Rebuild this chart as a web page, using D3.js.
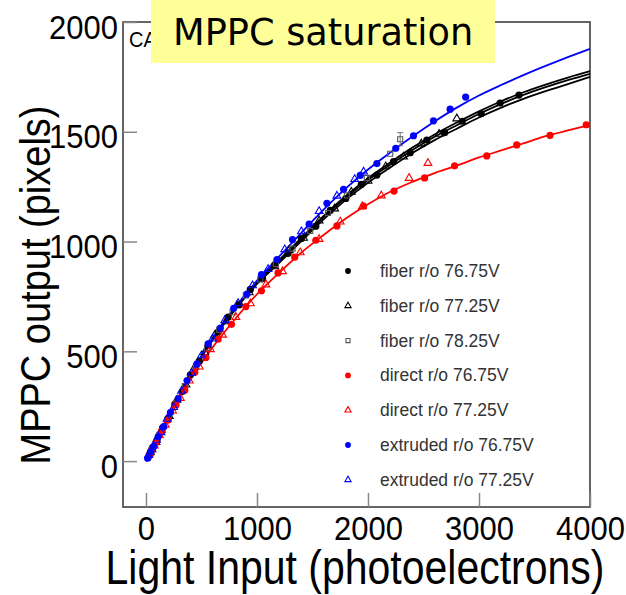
<!DOCTYPE html>
<html>
<head>
<meta charset="utf-8">
<script src="https://cdn.jsdelivr.net/npm/d3@7"></script>
<style>
  html, body { margin: 0; padding: 0; background: #fff; }
  svg { display: block; }
</style>
</head>
<body>
<div id="chart"></div>
<script>
// tick values
var xTicks = [0, 1000, 2000, 3000, 4000];
var yTicks = [0, 500, 1000, 1500, 2000];

// fit curves on a shared x grid
var fitX = [0, 200, 400, 600, 800, 1000, 1200, 1400, 1600, 1800, 2000, 2200, 2400, 2600, 2800, 3000, 3200, 3400, 3600, 3800, 4000];
var fitFiberA = [0, 198, 390, 555, 692, 812, 910, 1010, 1110, 1200, 1280, 1350, 1417, 1477, 1530, 1581, 1627, 1668, 1703, 1735, 1764];
var fitFiberB = [0, 199, 392, 558, 696, 817, 916, 1017, 1117, 1208, 1289, 1360, 1428, 1488, 1542, 1593, 1639, 1680, 1715, 1747, 1776];
var fitFiberC = [0, 197, 388, 552, 688, 807, 903, 1002, 1101, 1190, 1268, 1337, 1403, 1462, 1514, 1565, 1610, 1650, 1685, 1717, 1750];
var fitDirect = [0, 190, 372, 518, 645, 760, 858, 950, 1030, 1105, 1170, 1227, 1272, 1312, 1346, 1383, 1415, 1447, 1480, 1506, 1530];
var fitExtruded = [0, 198, 392, 560, 698, 822, 932, 1040, 1145, 1242, 1328, 1405, 1478, 1547, 1610, 1665, 1713, 1758, 1800, 1840, 1878];

// measured points
var fiber7675X = [30, 60, 100, 150, 200, 260, 330, 400, 480, 560, 650, 740, 840, 940, 1050, 1160, 1280, 1400, 1530, 1660, 1800, 1940, 2080, 2230, 2380, 2530, 2690, 2850, 3020, 3190, 3360];
var fiber7675Y = [28, 61, 97, 152, 195, 259, 318, 393, 455, 527, 588, 656, 713, 782, 831, 894, 946, 1014, 1070, 1142, 1196, 1260, 1303, 1364, 1405, 1462, 1496, 1548, 1582, 1631, 1667];

var fiber7725X = [40, 90, 140, 210, 280, 360, 440, 530, 620, 720, 820, 930, 1040, 1160, 1290, 1420, 1560, 1700, 1850, 2000, 2160, 2320, 2480, 2640, 2800];
var fiber7725Y = [42, 86, 142, 205, 279, 348, 428, 496, 574, 636, 709, 768, 835, 886, 960, 1016, 1095, 1150, 1226, 1276, 1342, 1386, 1446, 1490, 1560];

var fiber7825X = [50, 120, 190, 270, 350, 450, 550, 660, 780, 900, 1030, 1170, 1320, 1480, 1640, 1810, 1990, 2200, 2290];
var fiber7825Y = [50, 119, 188, 265, 342, 433, 515, 598, 678, 755, 828, 898, 968, 1048, 1130, 1210, 1290, 1400, 1466];
var fiber7825Err = [0, 0, 0, 0, 0, 0, 0, 0, 0, 0, 0, 0, 0, 0, 0, 0, 0, 0, 30];

var direct7675X = [20, 50, 90, 140, 200, 270, 350, 440, 540, 650, 770, 900, 1040, 1190, 1340, 1530, 1720, 1960, 2235, 2510, 2780, 3070, 3340, 3640, 3966];
var direct7675Y = [17, 50, 84, 137, 187, 256, 323, 405, 472, 555, 623, 704, 776, 857, 929, 1006, 1071, 1162, 1230, 1290, 1345, 1390, 1440, 1484, 1532];

var direct7725X = [35, 75, 120, 175, 240, 310, 390, 480, 580, 690, 810, 940, 1080, 1230, 1390, 1560, 1750, 1950, 2120, 2370, 2540];
var direct7725Y = [35, 70, 118, 165, 229, 287, 366, 430, 509, 575, 655, 718, 804, 864, 950, 1011, 1090, 1160, 1209, 1289, 1357];

var extr7675X = [15, 40, 70, 110, 160, 220, 290, 370, 460, 560, 670, 790, 910, 1040, 1180, 1320, 1470, 1630, 1780, 1930, 2080, 2250, 2410, 2590, 2740, 2880];
var extr7675Y = [13, 42, 67, 112, 157, 221, 284, 367, 443, 534, 606, 696, 761, 849, 918, 1009, 1079, 1174, 1238, 1301, 1355, 1425, 1482, 1550, 1603, 1658];

var extr7725X = [25, 55, 95, 135, 190, 250, 320, 410, 500, 600, 710, 830, 960, 1100, 1250, 1400, 1560, 1720, 1880, 1960];
var extr7725Y = [27, 53, 96, 131, 192, 245, 319, 401, 481, 557, 641, 719, 800, 874, 964, 1046, 1138, 1208, 1284, 1318];

var legendLabels = ["fiber r/o 76.75V", "fiber r/o 77.25V", "fiber r/o 78.25V", "direct r/o 76.75V", "direct r/o 77.25V", "extruded r/o 76.75V", "extruded r/o 77.25V"];

var W = 626, H = 595;
var frame = {left: 123, right: 590, top: 22, bottom: 507};

var svg = d3.select("#chart").append("svg")
  .attr("width", W)
  .attr("height", H);

var x = d3.scaleLinear().domain([-207, 4000]).range([frame.left, frame.right]);
var y = d3.scaleLinear().domain([-209, 2000]).range([frame.bottom, frame.top]);

var font = "'Liberation Sans', Arial, Helvetica, sans-serif";

// frame
svg.append("rect")
  .attr("x", frame.left).attr("y", frame.top)
  .attr("width", frame.right - frame.left).attr("height", frame.bottom - frame.top)
  .attr("fill", "none")
  .attr("stroke", "#555")
  .attr("stroke-width", 1.8);

// axes, ticks pointing inward
var xAxis = svg.append("g")
  .attr("transform", "translate(0," + frame.bottom + ")")
  .call(d3.axisBottom(x).tickValues(xTicks).tickSizeInner(-14).tickSizeOuter(0).tickFormat(d3.format("d")));
var yAxis = svg.append("g")
  .attr("transform", "translate(" + frame.left + ",0)")
  .call(d3.axisLeft(y).tickValues(yTicks).tickSizeInner(-14).tickSizeOuter(0).tickFormat(d3.format("d")));

[xAxis, yAxis].forEach(function(a) {
  a.select(".domain").remove();
  a.selectAll(".tick line").attr("stroke", "#888").attr("stroke-width", 1.5);
  a.selectAll(".tick text")
    .attr("fill", "#000")
    .style("font-family", font)
    .style("font-size", "31px");
});
xAxis.selectAll(".tick text")
  .attr("y", null).attr("dy", null)
  .attr("transform", "translate(0,33) scale(1,1.1)");
yAxis.selectAll(".tick text")
  .attr("x", null).attr("dy", null)
  .attr("transform", "translate(-5,16) scale(1,1.1)");

// fit lines
var line = d3.line()
  .x(function(d) { return x(d[0]); })
  .y(function(d) { return y(d[1]); })
  .curve(d3.curveMonotoneX);

var fits = [
  {vals: fitFiberC, color: "#000"},
  {vals: fitFiberB, color: "#000"},
  {vals: fitFiberA, color: "#000"},
  {vals: fitDirect, color: "#f00"},
  {vals: fitExtruded, color: "#00f"}
];
fits.forEach(function(f) {
  svg.append("path")
    .datum(fitX.map(function(v, i) { return [v, f.vals[i]]; }))
    .attr("d", line)
    .attr("fill", "none")
    .attr("stroke", f.color)
    .attr("stroke-width", 1.8);
});

var series = [
  {xs: fiber7675X, ys: fiber7675Y, color: "#000", shape: "dot"},
  {xs: fiber7725X, ys: fiber7725Y, color: "#000", shape: "tri"},
  {xs: fiber7825X, ys: fiber7825Y, color: "#000", shape: "sq", err: fiber7825Err},
  {xs: direct7675X, ys: direct7675Y, color: "#f00", shape: "dot"},
  {xs: direct7725X, ys: direct7725Y, color: "#f00", shape: "tri"},
  {xs: extr7675X, ys: extr7675Y, color: "#00f", shape: "dot"},
  {xs: extr7725X, ys: extr7725Y, color: "#00f", shape: "tri"}
];

function drawMarker(g, shape, color, cx, cy, scale) {
  if (shape == "dot") {
    g.append("circle")
      .attr("cx", cx).attr("cy", cy).attr("r", 3.6 * scale)
      .attr("fill", color);
  } else {
    var sym = shape == "tri" ? d3.symbolTriangle : d3.symbolSquare;
    g.append("path")
      .attr("d", d3.symbol().type(sym).size(26 * scale * scale)())
      .attr("transform", "translate(" + cx + "," + cy + ")")
      .attr("fill", "none")
      .attr("stroke", shape == "sq" ? "#555" : color)
      .attr("stroke-width", 1.1);
  }
}

var pts = svg.append("g");
series.forEach(function(s) {
  s.xs.forEach(function(v, i) {
    if (s.err && s.err[i] > 0) {
      var e = s.err[i];
      pts.append("path")
        .attr("d", "M" + x(v) + "," + y(s.ys[i] - e) + "V" + y(s.ys[i] + e) +
          "M" + (x(v) - 3) + "," + y(s.ys[i] + e) + "h6" +
          "M" + (x(v) - 3) + "," + y(s.ys[i] - e) + "h6")
        .attr("stroke", "#777")
        .attr("stroke-width", 1);
    }
    drawMarker(pts, s.shape, s.color, x(v), y(s.ys[i]), 1);
  });
});

// legend
var leg = svg.append("g");
series.forEach(function(s, i) {
  var ly = 271 + i * 34.8;
  drawMarker(leg, s.shape, s.color, 348, ly, 0.8);
  leg.append("text")
    .attr("x", 380).attr("y", ly + 6)
    .attr("fill", "#333")
    .style("font-family", font)
    .style("font-size", "17.5px")
    .text(legendLabels[i]);
});

// corner label, cut off by the title box
svg.append("clipPath").attr("id", "cornerClip")
  .append("rect").attr("x", 124).attr("y", 23).attr("width", 27).attr("height", 40);
svg.append("g")
  .attr("clip-path", "url(#cornerClip)")
  .append("text")
  .attr("transform", "translate(129,47) scale(1,1.1)")
  .style("font-family", font)
  .style("font-size", "20px")
  .text("CA");

// axis titles
svg.append("text")
  .attr("transform", "translate(50,285) rotate(-90) scale(1,1.1)")
  .attr("text-anchor", "middle")
  .style("font-family", font)
  .style("font-size", "38px")
  .text("MPPC output (pixels)");

svg.append("text")
  .attr("transform", "translate(355,584) scale(1,1.18)")
  .attr("text-anchor", "middle")
  .style("font-family", font)
  .style("font-size", "41px")
  .text("Light Input (photoelectrons)");

// title box
svg.append("rect")
  .attr("x", 151).attr("y", 0)
  .attr("width", 344).attr("height", 63)
  .attr("fill", "#ffff99");
svg.append("text")
  .attr("x", 173).attr("y", 45)
  .style("font-family", "'DejaVu Sans', Verdana, sans-serif")
  .style("font-size", "36.7px")
  .text("MPPC saturation");
</script>
</body>
</html>
